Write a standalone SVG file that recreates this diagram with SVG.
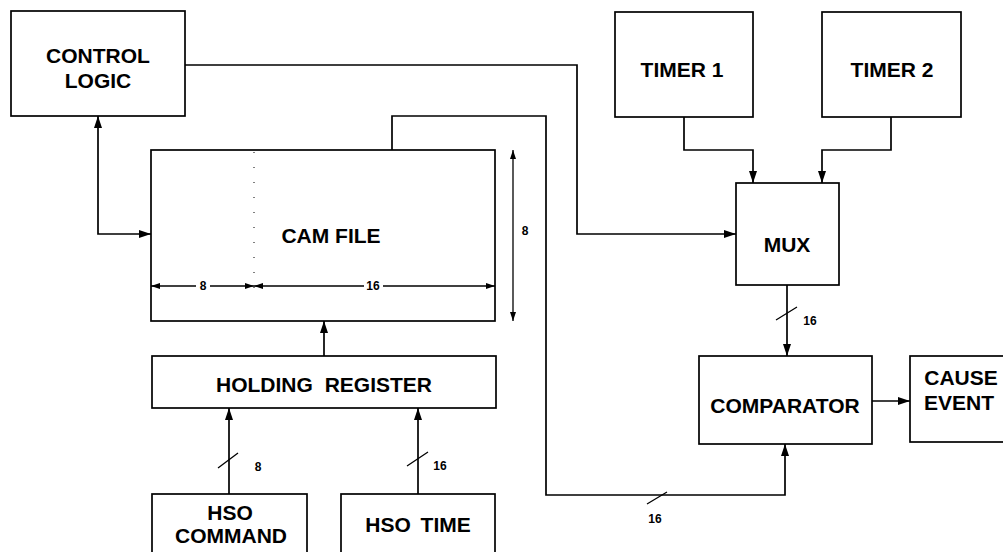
<svg xmlns="http://www.w3.org/2000/svg" width="1003" height="552" viewBox="0 0 1003 552">
<style>
.box{fill:#fff;stroke:#000;stroke-width:1.7}
.ln{fill:none;stroke:#000;stroke-width:1.7}
.thin{fill:none;stroke:#000;stroke-width:1.3}
.t{font-family:"Liberation Sans",Arial,sans-serif;font-weight:bold;font-size:21px;text-anchor:middle;fill:#000}
.s{font-family:"Liberation Sans",Arial,sans-serif;font-weight:bold;font-size:12px;text-anchor:middle;fill:#000}
</style>
<defs>
<marker id="ah" viewBox="0 0 12 8" refX="12" refY="4" markerWidth="12" markerHeight="8" orient="auto-start-reverse" markerUnits="userSpaceOnUse"><path d="M0,0 L12,4 L0,8 z" fill="#000"/></marker>
<marker id="dh" viewBox="0 0 9 6" refX="9" refY="3" markerWidth="9" markerHeight="6" orient="auto-start-reverse" markerUnits="userSpaceOnUse"><path d="M0,0 L9,3 L0,6 z" fill="#000"/></marker>
</defs>
<rect width="1003" height="552" fill="#fff"/>
<g id="connectors">
<path class="ln" d="M185,65 H577 V234 H736" marker-end="url(#ah)"/>
<path class="ln" d="M98,116 V234 H151" marker-start="url(#ah)" marker-end="url(#ah)"/>
<path class="ln" d="M392,150 V116 H546 V495 H785 V444" marker-end="url(#ah)"/>
<path class="ln" d="M684,117 V150 H753 V183" marker-end="url(#ah)"/>
<path class="ln" d="M891,117 V150 H822 V183" marker-end="url(#ah)"/>
<path class="ln" d="M787,285 V356" marker-end="url(#ah)"/>
<path class="ln" d="M872,401 H910" marker-end="url(#ah)"/>
<path class="ln" d="M324,356 V321" marker-end="url(#ah)"/>
<path class="ln" d="M229,494 V408" marker-end="url(#ah)"/>
<path class="ln" d="M418,494 V408" marker-end="url(#ah)"/>
<path class="thin" d="M218,468 L238,453 M407,466 L428,452 M776,320 L797,307 M647,504 L667,492"/>
<text class="s" x="258" y="471">8</text>
<text class="s" x="440" y="470">16</text>
<text class="s" x="810" y="325">16</text>
<text class="s" x="655" y="523">16</text>
</g>
<g id="control-logic">
<rect class="box" x="11" y="11" width="174" height="105"/>
<text class="t" x="98" y="63">CONTROL</text>
<text class="t" x="98" y="88">LOGIC</text>
</g>
<g id="cam-file">
<rect class="box" x="151" y="150" width="344" height="171"/>
<text class="t" x="331" y="243">CAM FILE</text>
<line x1="254" y1="152" x2="254" y2="300" stroke="#000" stroke-width="1" stroke-dasharray="1 14"/>
<path class="thin" d="M151,286 H196" marker-start="url(#dh)"/>
<path class="thin" d="M210,286 H254" marker-end="url(#dh)"/>
<path class="thin" d="M254,286 H364" marker-start="url(#dh)"/>
<path class="thin" d="M383,286 H495" marker-end="url(#dh)"/>
<text class="s" x="203" y="290">8</text>
<text class="s" x="373" y="290">16</text>
<path class="thin" d="M513,150 V321" marker-start="url(#dh)" marker-end="url(#dh)"/>
<text class="s" x="525" y="235">8</text>
</g>
<g id="timer-1">
<rect class="box" x="615" y="12" width="138" height="105"/>
<text class="t" x="682" y="77">TIMER 1</text>
</g>
<g id="timer-2">
<rect class="box" x="822" y="12" width="139" height="105"/>
<text class="t" x="892" y="77">TIMER 2</text>
</g>
<g id="mux">
<rect class="box" x="736" y="183" width="103" height="102"/>
<text class="t" x="787" y="252">MUX</text>
</g>
<g id="comparator">
<rect class="box" x="699" y="356" width="173" height="88"/>
<text class="t" x="785" y="413">COMPARATOR</text>
</g>
<g id="cause-event">
<rect class="box" x="910" y="356" width="100" height="86"/>
<text class="t" x="961" y="385">CAUSE</text>
<text class="t" x="959" y="410">EVENT</text>
</g>
<g id="holding-register">
<rect class="box" x="152" y="356" width="344" height="52"/>
<text class="t" x="324" y="392" word-spacing="6">HOLDING REGISTER</text>
</g>
<g id="hso-command">
<rect class="box" x="152" y="494" width="155" height="70"/>
<text class="t" x="230" y="520">HSO</text>
<text class="t" x="231" y="543">COMMAND</text>
</g>
<g id="hso-time">
<rect class="box" x="341" y="494" width="154" height="70"/>
<text class="t" x="418" y="532" word-spacing="4">HSO TIME</text>
</g>
</svg>
